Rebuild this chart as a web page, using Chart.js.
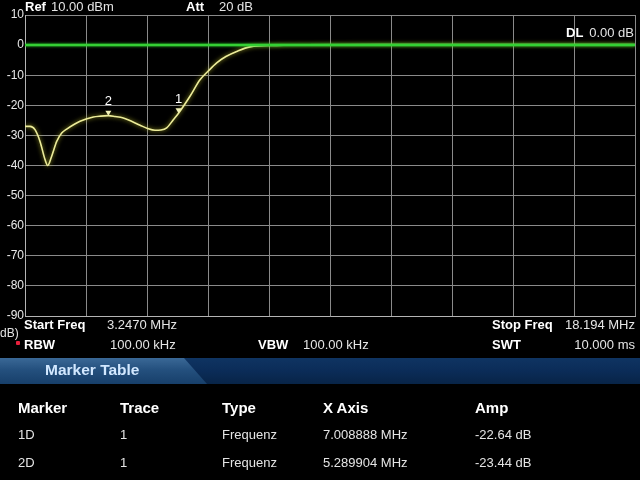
<!DOCTYPE html>
<html><head><meta charset="utf-8">
<script src="https://cdn.jsdelivr.net/npm/chart.js@4"></script>
<style>
html,body{margin:0;padding:0;background:#000;width:640px;height:480px;overflow:hidden;}
#wrap{position:relative;width:640px;height:480px;background:#000;}
canvas{position:absolute;left:0;top:0;}
.t{position:absolute;font-family:"Liberation Sans",Arial,sans-serif;font-size:13px;line-height:16px;color:#e4e4e4;white-space:nowrap;}
.b{font-weight:bold;color:#fff;}
.h{font-weight:bold;color:#fff;font-size:15px;line-height:18px;}
#band{position:absolute;left:0;top:358px;width:640px;height:26px;background:linear-gradient(to bottom,#0f3462 0%,#0b2c58 50%,#082447 100%);}
#tab{position:absolute;left:0;top:358px;width:210px;height:26px;clip-path:polygon(0 0,184px 0,207px 100%,0 100%);background:linear-gradient(to bottom,#3a6896 0%,#24507e 45%,#173f6a 100%);}
#dot{position:absolute;left:16px;top:341px;width:4px;height:4px;background:#e8203c;border-radius:1px;}
</style></head>
<body><div id="wrap">
<canvas id="c" width="640" height="480"></canvas>
<div class="t b" style="left:25px;top:-1px">Ref</div>
<div class="t" style="left:51px;top:-1px">10.00 dBm</div>
<div class="t b" style="left:186px;top:-1px">Att</div>
<div class="t" style="left:219px;top:-1px">20 dB</div>
<div class="t b" style="left:566px;top:25px">DL</div>
<div class="t" style="right:6px;top:25px">0.00 dB</div>
<div class="t" style="left:0px;top:325px;font-size:12px">dB)</div>
<div class="t b" style="left:24px;top:317px">Start Freq</div>
<div class="t" style="left:107px;top:317px">3.2470 MHz</div>
<div class="t b" style="left:492px;top:317px">Stop Freq</div>
<div class="t" style="right:5px;top:317px">18.194 MHz</div>
<div id="dot"></div>
<div class="t b" style="left:24px;top:337px">RBW</div>
<div class="t" style="left:110px;top:337px">100.00 kHz</div>
<div class="t b" style="left:258px;top:337px">VBW</div>
<div class="t" style="left:303px;top:337px">100.00 kHz</div>
<div class="t b" style="left:492px;top:337px">SWT</div>
<div class="t" style="right:5px;top:337px">10.000 ms</div>
<div id="band"></div><div id="tab"></div>
<div class="t" style="left:45px;top:361px;font-weight:bold;font-size:15.5px;line-height:18px;color:#d2e8ff">Marker Table</div>
<div class="t h" style="left:18px;top:399px">Marker</div>
<div class="t h" style="left:120px;top:399px">Trace</div>
<div class="t h" style="left:222px;top:399px">Type</div>
<div class="t h" style="left:323px;top:399px">X Axis</div>
<div class="t h" style="left:475px;top:399px">Amp</div>
<div class="t" style="left:18px;top:427px">1D</div>
<div class="t" style="left:120px;top:427px">1</div>
<div class="t" style="left:222px;top:427px">Frequenz</div>
<div class="t" style="left:323px;top:427px">7.008888 MHz</div>
<div class="t" style="left:475px;top:427px">-22.64 dB</div>
<div class="t" style="left:18px;top:455px">2D</div>
<div class="t" style="left:120px;top:455px">1</div>
<div class="t" style="left:222px;top:455px">Frequenz</div>
<div class="t" style="left:323px;top:455px">5.289904 MHz</div>
<div class="t" style="left:475px;top:455px">-23.44 dB</div>
</div>
<script>
// ---- data ----
const startFreqMHz = 3.247;
const stopFreqMHz = 18.194;
const freqMHz = [3.247, 3.370, 3.492, 3.615, 3.737, 3.803, 3.901, 4.024, 4.146, 4.269, 4.595, 4.921, 5.100, 5.290, 5.450, 5.656, 6.065, 6.250, 6.432, 6.580, 6.719, 6.881, 7.009, 7.290, 7.535, 7.731, 7.944, 8.170, 8.434, 8.760, 9.414, 10.059, 12.000, 14.000, 16.000, 18.194];
const ampdB   = [-27.0, -27.0, -28.1, -32.0, -38.0, -40.0, -36.9, -32.0, -29.2, -27.9, -25.3, -23.9, -23.6, -23.44, -23.7, -24.2, -26.6, -27.7, -28.3, -28.2, -27.5, -24.8, -22.64, -17.0, -11.5, -8.7, -5.9, -3.8, -2.1, -0.6, -0.1, 0.1, 0.2, 0.2, 0.2, 0.2];
const displayLinedB = 0;
const markerIds = ['1', '2'];
const markerFreqMHz = [7.008888, 5.289904];
const markerAmpdB = [-22.64, -23.44];
const yTicksdB = [10, 0, -10, -20, -30, -40, -50, -60, -70, -80, -90];

const tracePts = freqMHz.map((f, i) => ({x: f, y: ampdB[i]}));
const dlPts = [{x: startFreqMHz, y: displayLinedB}, {x: stopFreqMHz, y: displayLinedB}];

const glowPlugin = {
  id: 'glow',
  beforeDatasetDraw(chart, args) {
    const ctx = chart.ctx; ctx.save();
    if (args.index === 0) { ctx.shadowColor = 'rgba(190,190,40,0.9)'; ctx.shadowBlur = 4; }
    else { ctx.shadowColor = 'rgba(40,230,40,0.8)'; ctx.shadowBlur = 3; }
  },
  afterDatasetDraw(chart) { chart.ctx.restore(); }
};
const markerPlugin = {
  id: 'markers',
  afterDatasetsDraw(chart) {
    const {ctx, scales: {x, y}} = chart;
    ctx.save();
    markerIds.forEach((id, i) => {
      const px = x.getPixelForValue(markerFreqMHz[i]);
      const py = y.getPixelForValue(markerAmpdB[i]);
      ctx.fillStyle = '#f2f2b8';
      ctx.beginPath(); ctx.moveTo(px - 3, py - 5); ctx.lineTo(px + 3, py - 5); ctx.lineTo(px, py); ctx.closePath(); ctx.fill();
      ctx.fillStyle = '#ffffff';
      ctx.font = '13px "Liberation Sans", Arial, sans-serif';
      ctx.textAlign = 'center'; ctx.textBaseline = 'middle';
      ctx.fillText(id, px, py - 14);
    });
    ctx.restore();
  }
};

new Chart(document.getElementById('c'), {
  type: 'line',
  data: {
    datasets: [
      {data: tracePts, borderColor: '#ecec9a', borderWidth: 1.6, pointRadius: 0, cubicInterpolationMode: 'monotone', order: 1},
      {data: dlPts, borderColor: '#34d034', borderWidth: 2.5, pointRadius: 0, order: 0}
    ]
  },
  options: {
    responsive: false, animation: false,
    layout: {padding: {left: 0, top: 15, right: 5, bottom: 164}},
    plugins: {legend: {display: false}, tooltip: {enabled: false}},
    scales: {
      x: {
        type: 'linear', min: startFreqMHz, max: stopFreqMHz,
        afterBuildTicks: (s) => { s.ticks = Array.from({length: 11}, (_, i) => ({value: startFreqMHz + i * (stopFreqMHz - startFreqMHz) / 10})); },
        afterFit: (s) => { s.height = 0; },
        ticks: {display: false},
        grid: {color: '#8a8a8a', lineWidth: 1, drawTicks: false},
        border: {color: '#b4b4b4', width: 1}
      },
      y: {
        min: -90, max: 10,
        afterBuildTicks: (s) => { s.ticks = yTicksdB.map(v => ({value: v})); },
        afterFit: (s) => { s.width = 25; },
        ticks: {color: '#e8e8e8', font: {family: '"Liberation Sans", Arial, sans-serif', size: 12}, padding: 1},
        grid: {color: '#8a8a8a', lineWidth: 1, drawTicks: false},
        border: {color: '#b4b4b4', width: 1}
      }
    }
  },
  plugins: [glowPlugin, markerPlugin]
});
</script>
</body></html>
